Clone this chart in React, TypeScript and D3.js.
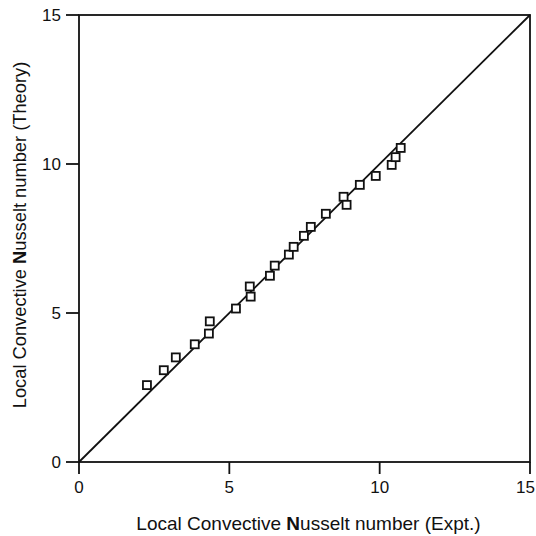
import React from "react";
import * as d3 from "d3";

// readings (Expt. vs Theory)
const exptValues = [2.26, 2.82, 3.22, 3.85, 4.32, 4.35, 5.22, 5.68, 5.71, 6.35, 6.51, 6.98, 7.14, 7.48, 7.71, 8.21, 8.80, 8.90, 9.34, 9.87, 10.40, 10.53, 10.70];
const theoryValues = [2.58, 3.08, 3.51, 3.95, 4.31, 4.72, 5.15, 5.89, 5.55, 6.25, 6.59, 6.96, 7.22, 7.59, 7.89, 8.33, 8.90, 8.63, 9.30, 9.60, 9.97, 10.23, 10.54];
const tickValues = [0, 5, 10, 15];
const axisDomain = [0, 15];
const xLabel = ["Local Convective ", "N", "usselt number (Expt.)"];
const yLabel = ["Local Convective ", "N", "usselt number (Theory)"];

const W = 536;
const H = 536;
const margin = { left: 79, top: 15, right: 6, bottom: 74 };
const FONT = "Liberation Sans, Arial, sans-serif";

const App = () => {
  const ref = React.useRef<SVGSVGElement>(null);

  React.useEffect(() => {
    const svg = d3.select(ref.current);
    svg.selectAll("*").remove();
    const x = d3.scaleLinear(axisDomain, [margin.left, W - margin.right]);
    const y = d3.scaleLinear(axisDomain, [H - margin.bottom, margin.top]);

    // frame
    svg.append("rect")
      .attr("x", x(0)).attr("y", y(15))
      .attr("width", x(15) - x(0)).attr("height", y(0) - y(15))
      .attr("fill", "none").attr("stroke", "#111").attr("stroke-width", 1.8);

    // ticks
    const gx = svg.append("g").attr("font-family", FONT).attr("font-size", 17);
    tickValues.forEach(t => {
      const last = t === axisDomain[1];
      gx.append("line").attr("x1", x(t)).attr("x2", x(t))
        .attr("y1", y(0)).attr("y2", y(0) + 12)
        .attr("stroke", "#111").attr("stroke-width", 1.8);
      // the last x label would run off the page edge, so pin it to the edge
      gx.append("text").attr("x", last ? W - 1 : x(t)).attr("y", y(0) + 31)
        .attr("text-anchor", last ? "end" : "middle").attr("fill", "#111").text(t);
      gx.append("line").attr("x1", x(0) - 13).attr("x2", x(0))
        .attr("y1", y(t)).attr("y2", y(t))
        .attr("stroke", "#111").attr("stroke-width", 1.8);
      gx.append("text").attr("x", x(0) - 18).attr("y", y(t) + 5.5)
        .attr("text-anchor", "end").attr("fill", "#111").text(t);
    });

    // identity line
    svg.append("line")
      .attr("x1", x(0)).attr("y1", y(0)).attr("x2", x(15)).attr("y2", y(15))
      .attr("stroke", "#111").attr("stroke-width", 1.8);

    // markers
    const s = 8;
    svg.append("g").selectAll("rect")
      .data(exptValues.map((v, i) => [v, theoryValues[i]]))
      .enter().append("rect")
      .attr("x", d => x(d[0]) - s / 2).attr("y", d => y(d[1]) - s / 2)
      .attr("width", s).attr("height", s)
      .attr("fill", "#fff").attr("stroke", "#111").attr("stroke-width", 1.8);

    // axis labels
    const xt = svg.append("text").attr("x", 308.5).attr("y", 530)
      .attr("text-anchor", "middle").attr("font-family", FONT).attr("font-size", 19).attr("fill", "#111");
    xLabel.forEach((part, i) => xt.append("tspan").attr("font-weight", i === 1 ? "bold" : "normal").text(part));

    const yt = svg.append("text").attr("transform", `translate(26, 235) rotate(-90)`)
      .attr("text-anchor", "middle").attr("font-family", FONT).attr("font-size", 18.3).attr("fill", "#111");
    yLabel.forEach((part, i) => yt.append("tspan").attr("font-weight", i === 1 ? "bold" : "normal").text(part));
  }, []);

  return <svg width={W} height={H} ref={ref} style={{ position: "absolute", left: 0, top: 0, background: "#fff" }} />;
};

export default App;
